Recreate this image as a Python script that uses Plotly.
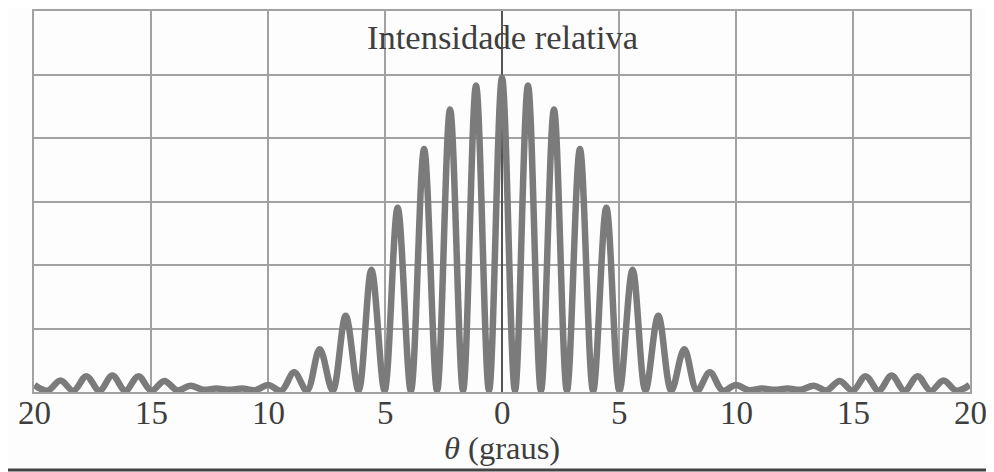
import plotly.graph_objects as go

# Interference maxima: angle (degrees, positive side) and relative intensity
peak_theta = [0.0, 1.11, 2.22, 3.33, 4.46, 5.58, 6.68, 7.79, 8.88, 9.99,
              11.10, 12.21, 13.32, 14.43, 15.54, 16.65, 17.76, 18.87, 19.98]
peak_value = [0.99, 0.965, 0.89, 0.765, 0.58, 0.385, 0.24, 0.135, 0.062, 0.022,
              0.011, 0.011, 0.02, 0.035, 0.05, 0.052, 0.05, 0.036, 0.022]

# Interference minima between them
trough_theta = [0.555, 1.665, 2.775, 3.895, 5.02, 6.13, 7.235, 8.335, 9.435, 10.545,
                11.655, 12.765, 13.875, 14.985, 16.095, 17.205, 18.315, 19.425]
trough_value = [0.004, 0.004, 0.004, 0.004, 0.004, 0.004, 0.004, 0.004, 0.004, 0.006,
                0.007, 0.007, 0.005, 0.004, 0.004, 0.004, 0.004, 0.004]

tick_vals = [-20, -15, -10, -5, 0, 5, 10, 15, 20]
tick_text = ["20", "15", "10", "5", "0", "5", "10", "15", "20"]

# Build the symmetric curve from the read points
pts = {}
for t, v in zip(peak_theta + trough_theta, peak_value + trough_value):
    pts[t] = v
    pts[-t] = v
xs = sorted(pts)
ys = [pts[x] for x in xs]

SERIF = "Liberation Serif, Times New Roman, serif"
GRID = "#a2a2a2"
TXT = "#3e3e3e"

fig = go.Figure()
fig.add_trace(go.Scatter(
    x=xs, y=ys, mode="lines",
    line=dict(color="#7b7b7b", width=6.5, shape="spline", smoothing=1.0),
    hoverinfo="skip", showlegend=False,
))

# tick labels placed on the x axis positions (closer to the axis than Plotly's default)
tick_annotations = [
    dict(text=t, x=v, xref="x", y=-0.055, yref="paper", xanchor="center",
         yanchor="middle", showarrow=False, font=dict(family=SERIF, size=33, color=TXT))
    for v, t in zip(tick_vals, tick_text)
]

fig.update_layout(
    width=986, height=464,
    margin=dict(l=26, r=24, t=3, b=80, autoexpand=False),
    paper_bgcolor="#fdfdfd", plot_bgcolor="#fdfdfd",
    font=dict(family=SERIF, color=TXT, size=33),
    xaxis=dict(
        range=[-20, 20], tickmode="array", tickvals=tick_vals, ticktext=tick_text,
        showticklabels=False,
        showgrid=True, gridcolor=GRID, gridwidth=1.5,
        zeroline=True, zerolinecolor="#555555", zerolinewidth=2,
        showline=True, linecolor=GRID, linewidth=1.5, mirror=True,
        ticks="", automargin=False, fixedrange=True,
    ),
    yaxis=dict(
        range=[0, 1.2], dtick=0.2, showticklabels=False,
        showgrid=True, gridcolor=GRID, gridwidth=1.5,
        zeroline=False, showline=True, linecolor=GRID, linewidth=1.5, mirror=True,
        ticks="", automargin=False, fixedrange=True,
    ),
    annotations=tick_annotations + [
        dict(text="Intensidade relativa", x=0, xref="x", y=0.932, yref="paper",
             xanchor="center", yanchor="middle", showarrow=False,
             font=dict(family=SERIF, size=34.5, color=TXT)),
        dict(text="<i>θ</i> (graus)", x=0, xref="x", y=-0.147, yref="paper",
             xanchor="center", yanchor="middle", showarrow=False,
             font=dict(family=SERIF, size=32.5, color=TXT)),
    ],
    shapes=[dict(type="line", xref="paper", yref="paper",
                 x0=-0.04, x1=1.03, y0=-0.2047, y1=-0.2047,
                 line=dict(color="#444444", width=3))],
)

fig.write_html("out.html")
